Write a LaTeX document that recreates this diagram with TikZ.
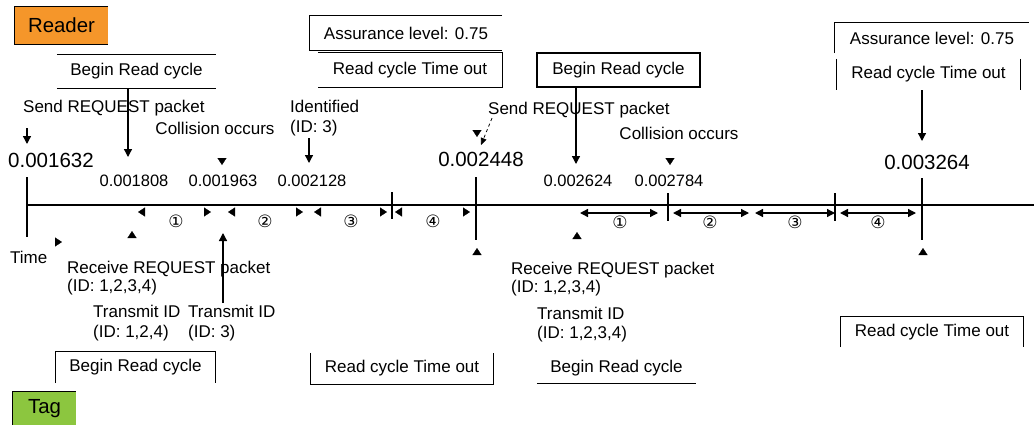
\documentclass[tikz,border=0pt]{standalone}
\usepackage{fontspec}
\setmainfont{Liberation Sans}
\newfontfamily\symfont{DejaVu Sans}
\usetikzlibrary{arrows.meta}

\tikzset{
  lbl/.style={inner sep=0pt, font=\fontsize{17}{18}\selectfont},
  num/.style={inner sep=0pt, font=\fontsize{16.5}{18}\selectfont},
  bignum/.style={inner sep=0pt, font=\fontsize{20.5}{22}\selectfont},
  circnum/.style={inner sep=0pt, font=\symfont\fontsize{17}{17}\selectfont},
  frame/.style={line width=1.2pt},
  tickline/.style={line width=1.3pt},
  arr/.style={line width=1.3pt, -{Triangle[width=8pt,length=8pt]}},
  tiponly/.style={draw=white, line width=0.3pt, -{Triangle[color=black,width=9pt,length=7pt]}},
  span/.style={line width=1.3pt, {Triangle[width=8pt,length=8pt]}-{Triangle[width=8pt,length=8pt]}},
  hidspan/.style={draw=white, line width=0.3pt, {Triangle[color=black,width=9pt,length=7pt]}-{Triangle[color=black,width=9pt,length=7pt]}}
}

\begin{document}
\begin{tikzpicture}[x=1pt,y=-1pt]

% Colours
\definecolor{readerOrange}{HTML}{F5962A}
\definecolor{tagGreen}{HTML}{8CC63F}

\useasboundingbox (0,0) rectangle (1034,424);

% Role labels
\node[fill=readerOrange, inner sep=0pt, minimum width=93pt, minimum height=37pt,
      font=\fontsize{20.4}{22}\selectfont] (reader) at (61.5,25.5) {Reader};
\draw[frame] (reader.north east) -- (reader.north west) -- (reader.south west) -- (reader.south east);
\node[fill=tagGreen, inner sep=0pt, minimum width=63pt, minimum height=36pt,
      font=\fontsize{20.4}{22}\selectfont] (tag) at (44.5,409) {Tag};
\draw[frame] (tag.south west) -- (tag.north west);
\draw[line width=0.4pt] (tag.north west) -- (tag.north east);

% Time axis and ticks
\coordinate (t0) at (27,205);
\coordinate (tA) at (392,205);
\coordinate (tB) at (476,205);
\coordinate (tC) at (668,205);
\coordinate (tD) at (835,205);
\coordinate (tE) at (922,205);
\coordinate (axisEnd) at (1034,205);
\draw[tickline] (t0) -- (axisEnd);
\draw[tickline] (27,177) -- (27,237);
\draw[tickline] (392,192) -- (392,219);
\draw[tickline] (476,177) -- (476,240);
\draw[tickline] (668,193) -- (668,221);
\draw[tickline] (835,193) -- (835,221);
\draw[tickline] (922,178) -- (922,240);

% Boxes above the axis
\node[lbl, minimum width=159pt, minimum height=33pt] (beginTL) at (136.5,71.5) {Begin Read cycle};
\draw[frame] (beginTL.north west) -- (beginTL.north east);
\draw[frame] (beginTL.south west) -- (beginTL.south east);

\node[lbl, minimum width=192pt, minimum height=34pt] (assureL) at (406,33) {Assurance level: 0.75};
\draw[frame] (assureL.north east) -- (assureL.north west) -- (assureL.south west) -- (assureL.south east);

\node[lbl, minimum width=184pt, minimum height=34pt] (timeoutL) at (410,70) {Read cycle Time out};
\draw[frame] (timeoutL.north west) -- (timeoutL.north east) -- (timeoutL.south east) -- (timeoutL.south west);

\node[lbl, draw, frame, minimum width=163pt, minimum height=34pt] (beginM) at (618.5,70) {Begin Read cycle};

\node[lbl, minimum width=194pt, minimum height=30pt] (assureR) at (932,38) {Assurance level: 0.75};
\draw[frame] (assureR.south west) -- (assureR.north west) -- (assureR.north east);

\node[lbl, minimum width=183pt, minimum height=31pt] (timeoutR) at (928.5,74.5) {Read cycle Time out};
\draw[frame] (timeoutR.north west) -- (timeoutR.south west);
\draw[frame] (timeoutR.north east) -- (timeoutR.south east);

% Boxes below the axis
\node[lbl, minimum width=159pt, minimum height=31pt] (beginBL) at (135.5,367.5) {Begin Read cycle};
\draw[frame] (beginBL.south west) -- (beginBL.north west) -- (beginBL.north east) -- (beginBL.south east);

\node[lbl, minimum width=182pt, minimum height=31pt] (timeoutBM) at (402,368.5) {Read cycle Time out};
\draw[frame] (timeoutBM.north west) -- (timeoutBM.south west) -- (timeoutBM.south east) -- (timeoutBM.north east);

\node[lbl, minimum width=159pt, minimum height=30pt] (beginBR) at (616.5,368) {Begin Read cycle};
\draw[frame] (beginBR.south west) -- (beginBR.south east);

\node[lbl, minimum width=182pt, minimum height=30pt] (timeoutBR) at (932,332) {Read cycle Time out};
\draw[frame] (timeoutBR.south west) -- (timeoutBR.north west) -- (timeoutBR.north east) -- (timeoutBR.south east);

% Reader events
\node[lbl, anchor=west] (sendL) at (23,108) {Send REQUEST packet};
\node[lbl] (collL) at (215,128) {Collision occurs};
\node[lbl, anchor=west, align=left, font=\fontsize{17}{20}\selectfont] (ident) at (290,118) {Identified\\(ID: 3)};
\node[lbl, anchor=west] (sendM) at (488,110) {Send REQUEST packet};
\node[lbl] (collR) at (679,133) {Collision occurs};

% Time stamps
\node[bignum] (n1632) at (51,160) {0.001632};
\node[bignum] (n2448) at (481,159) {0.002448};
\node[bignum] (n3264) at (927,162) {0.003264};
\node[num] (n1808) at (134,181) {0.001808};
\node[num] (n1963) at (223,181) {0.001963};
\node[num] (n2128) at (312,181) {0.002128};
\node[num] (n2624) at (578,181) {0.002624};
\node[num] (n2784) at (669,181) {0.002784};

% Reader arrows
\coordinate (pSendL) at (27,144);
\coordinate (pBeginTL) at (128,157);
\coordinate (pCollL) at (222,165);
\coordinate (pIdent) at (309,163);
\coordinate (pSendM) at (481,145);
\coordinate (pSendMtip) at (477,137);
\coordinate (pBeginM) at (576,164);
\coordinate (pCollR) at (670,165);
\coordinate (pTimeoutR) at (922,141);
\draw[arr] (sendL.south -| pSendL) ++(0,12) -- (pSendL);
\draw[arr] (beginTL.south -| pBeginTL) -- (pBeginTL);
\draw[tiponly] (collL.south -| pCollL) -- (pCollL);
\draw[arr] (ident.south -| pIdent) ++(0,2) -- (pIdent);
\draw[tiponly] (477,124) -- (pSendMtip);
\draw[dashed, line width=0.8pt, -{Triangle[width=6pt,length=7pt]}] ([xshift=4pt]sendM.south west) -- (pSendM);
\draw[arr] (beginM.south -| pBeginM) -- (pBeginM);
\draw[tiponly] (collR.south -| pCollR) -- (pCollR);
\draw[arr] (timeoutR.south -| pTimeoutR) -- (pTimeoutR);

% Slot intervals
\draw[hidspan] (138,212) -- (211,212);
\draw[hidspan] (228,212) -- (303,212);
\draw[hidspan] (314,212) -- (387,212);
\draw[hidspan] (395,212) -- (470,212);
\draw[span] (580,213) -- (658,213);
\draw[span] (673,213) -- (749,213);
\draw[span] (755,213) -- (835,213);
\draw[span] (840,213) -- (916,213);
\node[circnum] (s1L) at (176,221) {①};
\node[circnum] (s2L) at (265,221) {②};
\node[circnum] (s3L) at (351,221) {③};
\node[circnum] (s4L) at (433,221) {④};
\node[circnum] (s1R) at (620,222) {①};
\node[circnum] (s2R) at (710,222) {②};
\node[circnum] (s3R) at (795,222) {③};
\node[circnum] (s4R) at (878,222) {④};

% Tag events
\node[lbl, anchor=west] (time) at (10,257) {Time};
\node[lbl, anchor=west, align=left] (recvL) at (67,278) {Receive REQUEST packet\\(ID: 1,2,3,4)};
\node[lbl, anchor=west, align=left, font=\fontsize{17}{20}\selectfont] (transL1) at (93,323) {Transmit ID\\(ID: 1,2,4)};
\node[lbl, anchor=west, align=left, font=\fontsize{17}{20}\selectfont] (transL2) at (188,323) {Transmit ID\\(ID: 3)};
\node[lbl, anchor=west, align=left] (recvR) at (511,279.5) {Receive REQUEST packet\\(ID: 1,2,3,4)};
\node[lbl, anchor=west, align=left, font=\fontsize{17}{19}\selectfont] (transR) at (537,324.5) {Transmit ID\\(ID: 1,2,3,4)};

% Tag arrows and markers
\coordinate (pTime) at (62,242);
\coordinate (pRecvL) at (132,231);
\coordinate (pTransL2) at (223,233);
\coordinate (pTickB) at (477,248);
\coordinate (pRecvR) at (577,232);
\coordinate (pTickE) at (923,248);
\draw[tiponly] (time.north east |- pTime) -- (pTime);
\draw[tiponly] (132,250) -- (pRecvL);
\draw[arr] (223,303) -- (pTransL2);
\draw[tiponly] (477,262) -- (pTickB);
\draw[tiponly] (577,248) -- (pRecvR);
\draw[tiponly] (923,262) -- (pTickE);

\end{tikzpicture}
\end{document}
